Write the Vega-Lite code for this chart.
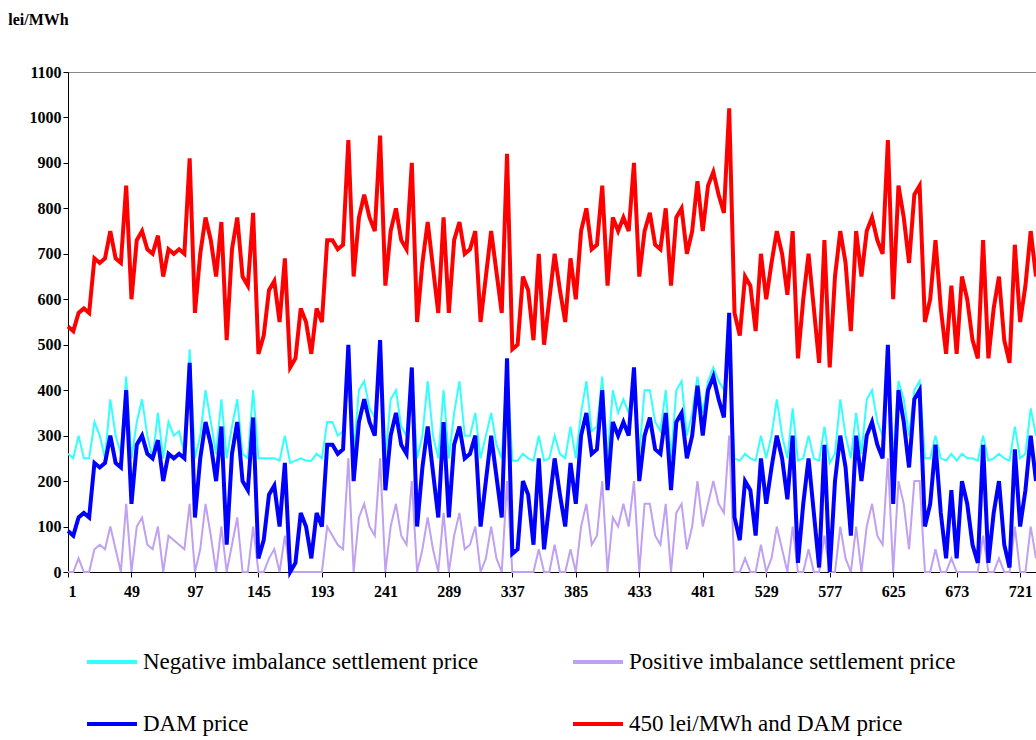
{
"$schema":"https://vega.github.io/schema/vega-lite/v6.json",
"width":968,"height":500,
"autosize":{"type":"none"},
"padding":{"left":68,"top":72,"right":0,"bottom":168},
"data":{"values":[
{"h":1,"n":260,"p":0,"d":90,"r":540},{"h":5,"n":250,"p":0,"d":80,"r":530},{"h":9,"n":300,"p":30,"d":120,"r":570},{"h":13,"n":250,"p":0,"d":130,"r":580},{"h":17,"n":250,"p":0,"d":120,"r":570},{"h":21,"n":330,"p":50,"d":240,"r":690},
{"h":25,"n":300,"p":60,"d":230,"r":680},{"h":29,"n":250,"p":50,"d":240,"r":690},{"h":33,"n":380,"p":100,"d":300,"r":750},{"h":37,"n":300,"p":50,"d":240,"r":690},{"h":41,"n":260,"p":0,"d":230,"r":680},{"h":45,"n":430,"p":150,"d":400,"r":850},
{"h":49,"n":250,"p":0,"d":150,"r":600},{"h":53,"n":330,"p":100,"d":280,"r":730},{"h":57,"n":380,"p":120,"d":300,"r":750},{"h":61,"n":300,"p":60,"d":260,"r":710},{"h":65,"n":250,"p":50,"d":250,"r":700},{"h":69,"n":350,"p":100,"d":290,"r":740},
{"h":73,"n":250,"p":0,"d":200,"r":650},{"h":77,"n":330,"p":80,"d":260,"r":710},{"h":81,"n":300,"p":70,"d":250,"r":700},{"h":85,"n":310,"p":60,"d":260,"r":710},{"h":89,"n":260,"p":50,"d":250,"r":700},{"h":93,"n":490,"p":150,"d":460,"r":910},
{"h":97,"n":250,"p":0,"d":120,"r":570},{"h":101,"n":300,"p":50,"d":250,"r":700},{"h":105,"n":400,"p":150,"d":330,"r":780},{"h":109,"n":330,"p":80,"d":280,"r":730},{"h":113,"n":260,"p":0,"d":200,"r":650},{"h":117,"n":380,"p":100,"d":320,"r":770},
{"h":121,"n":250,"p":0,"d":60,"r":510},{"h":125,"n":320,"p":60,"d":260,"r":710},{"h":129,"n":380,"p":120,"d":330,"r":780},{"h":133,"n":260,"p":0,"d":200,"r":650},{"h":137,"n":250,"p":0,"d":180,"r":630},{"h":141,"n":400,"p":100,"d":340,"r":790},
{"h":145,"n":250,"p":0,"d":30,"r":480},{"h":149,"n":250,"p":0,"d":70,"r":520},{"h":153,"n":250,"p":30,"d":170,"r":620},{"h":157,"n":250,"p":50,"d":190,"r":640},{"h":161,"n":245,"p":0,"d":100,"r":550},{"h":165,"n":300,"p":80,"d":240,"r":690},
{"h":169,"n":240,"p":0,"d":0,"r":450},{"h":173,"n":245,"p":0,"d":20,"r":470},{"h":177,"n":250,"p":0,"d":130,"r":580},{"h":181,"n":245,"p":0,"d":100,"r":550},{"h":185,"n":245,"p":0,"d":30,"r":480},{"h":189,"n":260,"p":0,"d":130,"r":580},
{"h":193,"n":250,"p":0,"d":100,"r":550},{"h":197,"n":330,"p":100,"d":280,"r":730},{"h":201,"n":330,"p":80,"d":280,"r":730},{"h":205,"n":300,"p":60,"d":260,"r":710},{"h":209,"n":310,"p":50,"d":270,"r":720},{"h":213,"n":420,"p":250,"d":500,"r":950},
{"h":217,"n":260,"p":0,"d":200,"r":650},{"h":221,"n":400,"p":120,"d":330,"r":780},{"h":225,"n":420,"p":150,"d":380,"r":830},{"h":229,"n":360,"p":100,"d":330,"r":780},{"h":233,"n":340,"p":80,"d":300,"r":750},{"h":237,"n":450,"p":250,"d":510,"r":960},
{"h":241,"n":250,"p":0,"d":180,"r":630},{"h":245,"n":380,"p":100,"d":300,"r":750},{"h":249,"n":400,"p":150,"d":350,"r":800},{"h":253,"n":320,"p":80,"d":280,"r":730},{"h":257,"n":300,"p":60,"d":260,"r":710},{"h":261,"n":440,"p":200,"d":450,"r":900},
{"h":265,"n":250,"p":0,"d":100,"r":550},{"h":269,"n":300,"p":50,"d":230,"r":680},{"h":273,"n":420,"p":120,"d":320,"r":770},{"h":277,"n":300,"p":50,"d":220,"r":670},{"h":281,"n":250,"p":0,"d":120,"r":570},{"h":285,"n":400,"p":130,"d":330,"r":780},
{"h":289,"n":250,"p":0,"d":120,"r":570},{"h":293,"n":350,"p":80,"d":280,"r":730},{"h":297,"n":420,"p":130,"d":320,"r":770},{"h":301,"n":300,"p":50,"d":250,"r":700},{"h":305,"n":300,"p":60,"d":260,"r":710},{"h":309,"n":350,"p":100,"d":300,"r":750},
{"h":313,"n":250,"p":0,"d":100,"r":550},{"h":317,"n":300,"p":30,"d":200,"r":650},{"h":321,"n":350,"p":100,"d":300,"r":750},{"h":325,"n":280,"p":30,"d":210,"r":660},{"h":329,"n":250,"p":0,"d":120,"r":570},{"h":333,"n":450,"p":200,"d":470,"r":920},
{"h":337,"n":245,"p":0,"d":40,"r":490},{"h":341,"n":245,"p":0,"d":50,"r":500},{"h":345,"n":260,"p":0,"d":200,"r":650},{"h":349,"n":250,"p":0,"d":170,"r":620},{"h":353,"n":245,"p":0,"d":60,"r":510},{"h":357,"n":300,"p":50,"d":250,"r":700},
{"h":361,"n":245,"p":0,"d":50,"r":500},{"h":365,"n":250,"p":0,"d":150,"r":600},{"h":369,"n":300,"p":60,"d":250,"r":700},{"h":373,"n":260,"p":0,"d":170,"r":620},{"h":377,"n":250,"p":0,"d":100,"r":550},{"h":381,"n":320,"p":50,"d":240,"r":690},
{"h":385,"n":250,"p":0,"d":150,"r":600},{"h":389,"n":350,"p":100,"d":300,"r":750},{"h":393,"n":420,"p":150,"d":350,"r":800},{"h":397,"n":310,"p":60,"d":260,"r":710},{"h":401,"n":320,"p":80,"d":270,"r":720},{"h":405,"n":430,"p":200,"d":400,"r":850},
{"h":409,"n":250,"p":0,"d":180,"r":630},{"h":413,"n":400,"p":120,"d":330,"r":780},{"h":417,"n":350,"p":100,"d":300,"r":750},{"h":421,"n":380,"p":150,"d":330,"r":780},{"h":425,"n":350,"p":100,"d":300,"r":750},{"h":429,"n":420,"p":200,"d":450,"r":900},
{"h":433,"n":260,"p":0,"d":200,"r":650},{"h":437,"n":400,"p":150,"d":300,"r":750},{"h":441,"n":400,"p":150,"d":340,"r":790},{"h":445,"n":330,"p":80,"d":270,"r":720},{"h":449,"n":310,"p":60,"d":260,"r":710},{"h":453,"n":400,"p":150,"d":350,"r":800},
{"h":457,"n":250,"p":0,"d":180,"r":630},{"h":461,"n":400,"p":130,"d":330,"r":780},{"h":465,"n":420,"p":150,"d":350,"r":800},{"h":469,"n":300,"p":50,"d":250,"r":700},{"h":473,"n":350,"p":100,"d":300,"r":750},{"h":477,"n":430,"p":200,"d":410,"r":860},
{"h":481,"n":350,"p":100,"d":300,"r":750},{"h":485,"n":420,"p":150,"d":400,"r":850},{"h":489,"n":450,"p":200,"d":430,"r":880},{"h":493,"n":420,"p":150,"d":380,"r":830},{"h":497,"n":400,"p":130,"d":340,"r":790},{"h":501,"n":480,"p":300,"d":570,"r":1020},
{"h":505,"n":250,"p":0,"d":120,"r":570},{"h":509,"n":245,"p":0,"d":70,"r":520},{"h":513,"n":260,"p":30,"d":200,"r":650},{"h":517,"n":250,"p":0,"d":180,"r":630},{"h":521,"n":245,"p":0,"d":80,"r":530},{"h":525,"n":300,"p":60,"d":250,"r":700},
{"h":529,"n":250,"p":0,"d":150,"r":600},{"h":533,"n":300,"p":30,"d":230,"r":680},{"h":537,"n":380,"p":100,"d":300,"r":750},{"h":541,"n":300,"p":50,"d":250,"r":700},{"h":545,"n":250,"p":0,"d":160,"r":610},{"h":549,"n":360,"p":100,"d":300,"r":750},
{"h":553,"n":245,"p":0,"d":20,"r":470},{"h":557,"n":250,"p":0,"d":150,"r":600},{"h":561,"n":300,"p":50,"d":250,"r":700},{"h":565,"n":250,"p":0,"d":130,"r":580},{"h":569,"n":245,"p":0,"d":10,"r":460},{"h":573,"n":320,"p":80,"d":280,"r":730},
{"h":577,"n":240,"p":0,"d":0,"r":450},{"h":581,"n":260,"p":0,"d":200,"r":650},{"h":585,"n":380,"p":100,"d":300,"r":750},{"h":589,"n":300,"p":30,"d":230,"r":680},{"h":593,"n":250,"p":0,"d":80,"r":530},{"h":597,"n":350,"p":100,"d":300,"r":750},
{"h":601,"n":260,"p":0,"d":200,"r":650},{"h":605,"n":380,"p":100,"d":300,"r":750},{"h":609,"n":400,"p":150,"d":330,"r":780},{"h":613,"n":330,"p":80,"d":280,"r":730},{"h":617,"n":300,"p":60,"d":250,"r":700},{"h":621,"n":450,"p":250,"d":500,"r":950},
{"h":625,"n":250,"p":0,"d":150,"r":600},{"h":629,"n":420,"p":200,"d":400,"r":850},{"h":633,"n":380,"p":150,"d":330,"r":780},{"h":637,"n":300,"p":50,"d":230,"r":680},{"h":641,"n":400,"p":200,"d":380,"r":830},{"h":645,"n":420,"p":200,"d":400,"r":850},
{"h":649,"n":250,"p":0,"d":100,"r":550},{"h":653,"n":250,"p":0,"d":150,"r":600},{"h":657,"n":300,"p":50,"d":280,"r":730},{"h":661,"n":250,"p":0,"d":130,"r":580},{"h":665,"n":245,"p":0,"d":30,"r":480},{"h":669,"n":260,"p":30,"d":180,"r":630},
{"h":673,"n":245,"p":0,"d":30,"r":480},{"h":677,"n":260,"p":0,"d":200,"r":650},{"h":681,"n":250,"p":0,"d":150,"r":600},{"h":685,"n":250,"p":0,"d":60,"r":510},{"h":689,"n":245,"p":0,"d":20,"r":470},{"h":693,"n":300,"p":80,"d":280,"r":730},
{"h":697,"n":245,"p":0,"d":20,"r":470},{"h":701,"n":250,"p":0,"d":130,"r":580},{"h":705,"n":260,"p":30,"d":200,"r":650},{"h":709,"n":250,"p":0,"d":60,"r":510},{"h":713,"n":245,"p":0,"d":10,"r":460},{"h":717,"n":320,"p":100,"d":270,"r":720},
{"h":721,"n":250,"p":0,"d":100,"r":550},{"h":725,"n":260,"p":0,"d":180,"r":630},{"h":729,"n":360,"p":100,"d":300,"r":750},{"h":733,"n":300,"p":30,"d":200,"r":650}
]},
"encoding":{
"x":{"field":"h","type":"quantitative","scale":{"domain":[1,733],"nice":false,"zero":false},
"axis":{"title":null,"format":"d","values":[1,49,97,145,193,241,289,337,385,433,481,529,577,625,673,721],"grid":false,"labelFont":"Liberation Serif","labelFontWeight":"bold","labelFontSize":16,"labelColor":"black","domainColor":"black","tickColor":"black","labelPadding":6}}
},
"layer":[
{"mark":{"type":"line","strokeWidth":2},"encoding":{"y":{"field":"n","type":"quantitative","scale":{"domain":[0,1100]},
"axis":{"format":"d","values":[0,100,200,300,400,500,600,700,800,900,1000,1100],"grid":false,"title":"lei/MWh","titleAngle":0,"titleX":-30,"titleY":-45,"titleAlign":"center","titleFont":"Liberation Serif","titleFontSize":16,"titleFontWeight":"bold","titleColor":"black","labelFont":"Liberation Serif","labelFontWeight":"bold","labelFontSize":16,"labelColor":"black","domainColor":"black","tickColor":"black"}},
"color":{"datum":"Negative imbalance settlement price","type":"nominal","scale":{"domain":["Negative imbalance settlement price","Positive imbalance settlement price","DAM price","450 lei/MWh and DAM price"],"range":["#33ffff","#c0a0f0","#0000ff","#ff0000"]},
"legend":{"labelFont":"Liberation Serif","labelFontSize":23}}}},
{"mark":{"type":"line","strokeWidth":2},"encoding":{"y":{"field":"p","type":"quantitative"},"color":{"datum":"Positive imbalance settlement price","type":"nominal"}}},
{"mark":{"type":"line","strokeWidth":4},"encoding":{"y":{"field":"d","type":"quantitative"},"color":{"datum":"DAM price","type":"nominal"}}},
{"mark":{"type":"line","strokeWidth":4},"encoding":{"y":{"field":"r","type":"quantitative"},"color":{"datum":"450 lei/MWh and DAM price","type":"nominal"}}}
],
"config":{
"font":"Liberation Serif",
"view":{"stroke":"#888"},
"legend":{"orient":"none","legendX":17,"legendY":563,"direction":"horizontal","columns":2,"columnPadding":86,"rowPadding":23,"symbolType":"stroke","symbolSize":2500,"symbolStrokeWidth":4,"labelFont":"Liberation Serif","labelFontSize":23,"labelColor":"black","labelLimit":500,"title":null,"symbolLimit":0}
}
}
